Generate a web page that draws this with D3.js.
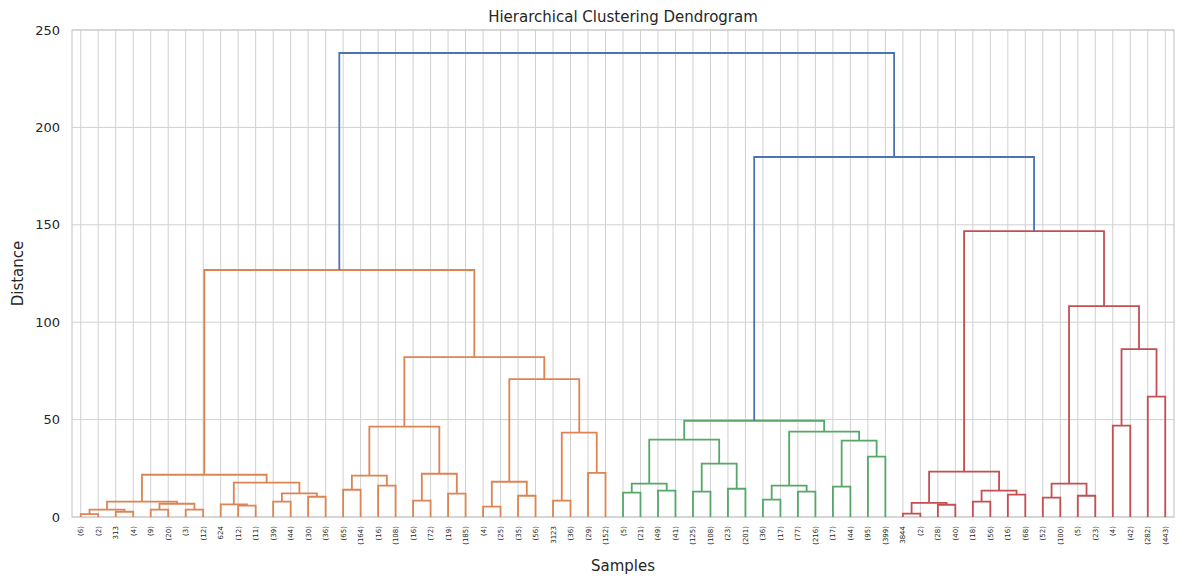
<!DOCTYPE html>
<html><head><meta charset="utf-8">
<script src="https://cdn.jsdelivr.net/npm/d3@7"></script>
<style>body{margin:0;background:#fff;font-family:"DejaVu Sans",sans-serif}</style>
</head><body><svg id="c" width="1184" height="583"></svg>
<script>
const leafLabels=["(6)","(2)","313","(4)","(9)","(20)","(3)","(12)","624","(12)","(11)","(39)","(44)","(30)","(36)","(65)","(164)","(16)","(108)","(16)","(72)","(19)","(185)","(4)","(25)","(35)","(56)","3123","(36)","(29)","(152)","(5)","(21)","(49)","(41)","(125)","(108)","(23)","(201)","(36)","(17)","(77)","(216)","(17)","(44)","(95)","(399)","3844","(2)","(28)","(40)","(18)","(56)","(16)","(68)","(52)","(100)","(5)","(23)","(4)","(42)","(282)","(443)"];
// merges: [left, right, height]; leaves are indices
const orangeTree=[[[[[0,1,1.5],[2,3,2.7],3.8],[[4,5,3.8],[6,7,3.8],6.8],7.9],[[8,[9,10,5.8],6.5],[[11,12,7.9],[13,14,10.4],12.1],17.6],21.7],
 [[[[15,16,14.0],[17,18,16.1],21.2],[[19,20,8.4],[21,22,12.0],22.2],46.4],[[[23,24,5.3],[25,26,10.9],18.1],[[27,28,8.4],[29,30,22.7],43.3],70.8],82.1],126.8];
const greenTree=[[[[31,32,12.5],[33,34,13.5],17.1],[[35,36,13.0],[37,38,14.5],27.4],39.7],[[[39,40,8.9],[41,42,13.0],16.1],[[43,44,15.6],[45,46,31.0],39.2],43.8],49.4];
const redTree=[[[[47,48,1.7],[49,50,6.3],7.3],[[51,52,7.9],[53,54,11.5],13.5],23.3],[[[55,56,9.9],[57,58,10.9],17.1],[[59,60,46.9],[61,62,61.8],86.2],108.3],146.8];
const rootMerges=[184.8,238.2];
const yTicks=[0,50,100,150,200,250];
const colors={orange:"#dd8452",green:"#55a868",red:"#c44e52",blue:"#4c72b0"};

const svg=d3.select("#c");
const L=72,R=1174,T=30,B=517;
const x=d3.scaleLinear().domain([0,leafLabels.length*10]).range([L,R]);
const y=d3.scaleLinear().domain([0,250]).range([B,T]);
const g=svg.append("g");
g.selectAll(".vg").data(leafLabels).enter().append("line").attr("x1",(d,i)=>x(5+10*i)).attr("x2",(d,i)=>x(5+10*i)).attr("y1",T).attr("y2",B).attr("stroke","#d0d0d0").attr("stroke-width",1);
g.selectAll(".hg").data(yTicks).enter().append("line").attr("x1",L).attr("x2",R).attr("y1",d=>y(d)).attr("y2",d=>y(d)).attr("stroke","#d0d0d0").attr("stroke-width",1);
g.append("rect").attr("x",L).attr("y",T).attr("width",R-L).attr("height",B-T).attr("fill","none").attr("stroke","#cccccc").attr("stroke-width",1.25);

function draw(node,color){
  if(typeof node==="number") return {x:5+10*node,h:0};
  const a=draw(node[0],color), b=draw(node[1],color), h=node[2];
  link(a,b,h,color);
  return {x:(a.x+b.x)/2,h:h};
}
function link(a,b,h,color){
  g.append("path").attr("d",`M${x(a.x)},${y(a.h)}V${y(h)}H${x(b.x)}V${y(b.h)}`)
   .attr("fill","none").attr("stroke",color).attr("stroke-width",1.8);
}
const o=draw(orangeTree,colors.orange), gr=draw(greenTree,colors.green), rd=draw(redTree,colors.red);
link(gr,rd,rootMerges[0],colors.blue);
const gr2={x:(gr.x+rd.x)/2,h:rootMerges[0]};
link(o,gr2,rootMerges[1],colors.blue);

yTicks.forEach(t=>svg.append("text").attr("x",L-12).attr("y",y(t)).attr("dy","0.35em").attr("text-anchor","end").attr("font-size",13).attr("fill","#262626").text(t));
leafLabels.forEach((l,i)=>svg.append("text").attr("transform",`translate(${x(5+10*i)+2.5},${B+9}) rotate(-90)`).attr("text-anchor","end").attr("font-size",7).attr("fill","#262626").text(l));
svg.append("text").attr("x",(L+R)/2).attr("y",22).attr("text-anchor","middle").attr("font-size",15).attr("fill","#262626").text("Hierarchical Clustering Dendrogram");
svg.append("text").attr("x",(L+R)/2).attr("y",571).attr("text-anchor","middle").attr("font-size",15).attr("fill","#262626").text("Samples");
svg.append("text").attr("transform",`translate(23,${(T+B)/2}) rotate(-90)`).attr("text-anchor","middle").attr("font-size",15).attr("fill","#262626").text("Distance");
</script></body></html>
